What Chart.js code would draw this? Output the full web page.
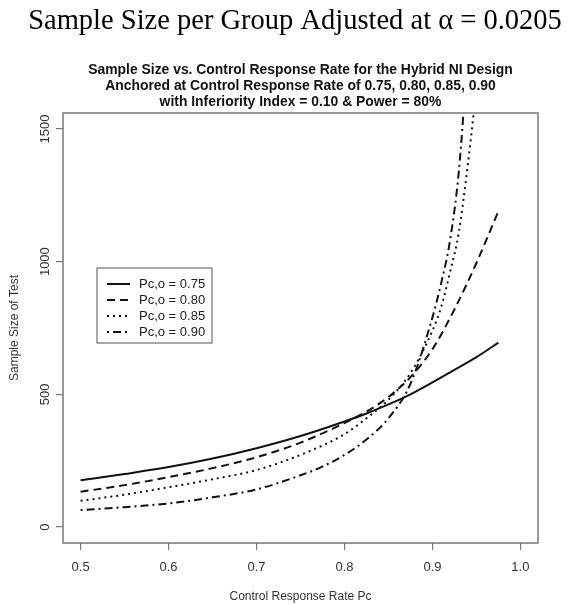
<!DOCTYPE html>
<html>
<head>
<meta charset="utf-8">
<script src="https://cdn.jsdelivr.net/npm/chart.js@4.4.0/dist/chart.umd.min.js"></script>
<style>
  html, body { margin: 0; padding: 0; background: #fff; }
  #wrap { width: 576px; height: 605px; }
</style>
</head>
<body>
<div id="wrap"><canvas id="chart" width="576" height="605"></canvas></div>
<script>
const xTicks = [0.5, 0.6, 0.7, 0.8, 0.9, 1.0];
const yTicks = [0, 500, 1000, 1500];
const seriesNames = ['Pc,o = 0.75', 'Pc,o = 0.80', 'Pc,o = 0.85', 'Pc,o = 0.90'];

// control response rate (x) and sample size (y)
const rate075 = [0.5, 0.55, 0.6, 0.65, 0.7, 0.75, 0.8, 0.825, 0.85, 0.875, 0.9, 0.925, 0.95, 0.975];
const size075 = [176, 200, 226, 258, 297, 343, 398, 428, 462, 500, 545, 592, 640, 695];

const rate080 = [0.5, 0.55, 0.6, 0.65, 0.7, 0.75, 0.8, 0.825, 0.85, 0.875, 0.9, 0.925, 0.95, 0.975];
const size080 = [133, 158, 188, 222, 263, 318, 392, 435, 490, 565, 670, 820, 995, 1190];

const rate085 = [0.5, 0.55, 0.6, 0.65, 0.7, 0.75, 0.8, 0.825, 0.85, 0.875, 0.9, 0.91, 0.92, 0.93, 0.94, 0.95];
const size085 = [99, 122, 150, 180, 215, 272, 350, 410, 480, 580, 740, 830, 960, 1110, 1360, 1650];

const rate090 = [0.5, 0.55, 0.6, 0.65, 0.7, 0.75, 0.775, 0.8, 0.825, 0.85, 0.875, 0.9, 0.91, 0.92, 0.93, 0.94];
const size090 = [64, 75, 89, 112, 142, 195, 228, 272, 330, 410, 540, 790, 920, 1080, 1340, 1780];

const dashes = [[], [8, 5], [2, 4], [2, 4, 8, 4]];

function pts(xs, ys) {
  return xs.map((v, i) => ({ x: v, y: ys[i] }));
}

const allRates = [rate075, rate080, rate085, rate090];
const allSizes = [size075, size080, size085, size090];

const datasets = seriesNames.map((name, i) => ({
  label: name,
  data: pts(allRates[i], allSizes[i]),
  borderColor: '#111',
  borderWidth: 2,
  borderDash: dashes[i],
  pointRadius: 0,
  tension: 0.4,
  cubicInterpolationMode: 'monotone',
  fill: false
}));

const font = '"Liberation Sans", Arial, sans-serif';

const decor = {
  id: 'decor',
  afterDraw(chart) {
    const { ctx, chartArea: a, scales: { y } } = chart;
    ctx.save();

    // plot box
    ctx.strokeStyle = '#777';
    ctx.lineWidth = 1.5;
    ctx.setLineDash([]);
    ctx.strokeRect(a.left, a.top, a.right - a.left, a.bottom - a.top);

    // main title
    ctx.fillStyle = '#000';
    ctx.textAlign = 'center';
    ctx.textBaseline = 'middle';
    ctx.font = '28.5px "Liberation Serif", "Times New Roman", serif';
    ctx.fillText('Sample Size per Group Adjusted at \u03b1 = 0.0205', 295, 22);

    // chart title
    ctx.fillStyle = '#111';
    ctx.font = 'bold 13.9px ' + font;
    const mid = (a.left + a.right) / 2;
    ctx.fillText('Sample Size vs. Control Response Rate for the Hybrid NI Design', mid, 70);
    ctx.fillText('Anchored at Control Response Rate of 0.75, 0.80, 0.85, 0.90', mid, 86);
    ctx.fillText('with Inferiority Index = 0.10 & Power = 80%', mid, 102);

    // y tick labels (rotated like R)
    ctx.fillStyle = '#333';
    ctx.font = '13px ' + font;
    yTicks.forEach(v => {
      ctx.save();
      ctx.translate(45, y.getPixelForValue(v));
      ctx.rotate(-Math.PI / 2);
      ctx.fillText(String(v), 0, 0);
      ctx.restore();
    });

    // axis titles
    ctx.font = '12px ' + font;
    ctx.save();
    ctx.translate(15, (a.top + a.bottom) / 2);
    ctx.rotate(-Math.PI / 2);
    ctx.fillText('Sample Size of Test', 0, 0);
    ctx.restore();
    ctx.fillText('Control Response Rate Pc', mid, 597);

    // legend
    const lx = 97, ly = 268, lw = 115, lh = 75;
    ctx.fillStyle = '#fff';
    ctx.fillRect(lx, ly, lw, lh);
    ctx.strokeStyle = '#555';
    ctx.lineWidth = 1;
    ctx.strokeRect(lx, ly, lw, lh);
    ctx.textAlign = 'left';
    ctx.font = '13px ' + font;
    chart.data.datasets.forEach((ds, i) => {
      const yy = ly + 16 + i * 16;
      ctx.strokeStyle = ds.borderColor;
      ctx.lineWidth = ds.borderWidth;
      ctx.setLineDash(ds.borderDash);
      ctx.beginPath();
      ctx.moveTo(lx + 10, yy);
      ctx.lineTo(lx + 33, yy);
      ctx.stroke();
      ctx.setLineDash([]);
      ctx.fillStyle = '#222';
      ctx.fillText(ds.label, lx + 42, yy);
    });

    ctx.restore();
  }
};

new Chart(document.getElementById('chart').getContext('2d'), {
  type: 'line',
  data: { datasets: datasets },
  options: {
    responsive: false,
    animation: false,
    devicePixelRatio: 1,
    layout: { padding: { top: 113, right: 38, bottom: 0, left: 0 } },
    plugins: {
      legend: { display: false },
      tooltip: { enabled: false }
    },
    scales: {
      x: {
        type: 'linear',
        min: 0.48,
        max: 1.02,
        afterBuildTicks: s => { s.ticks = xTicks.map(v => ({ value: v })); },
        afterFit: s => { s.height = 62; },
        border: { display: false },
        grid: { drawOnChartArea: false, drawTicks: true, tickLength: 7, color: '#777', lineWidth: 1.2 },
        ticks: {
          color: '#333',
          font: { size: 13, family: font },
          padding: 10,
          maxRotation: 0,
          callback: v => Number(v).toFixed(1)
        }
      },
      y: {
        type: 'linear',
        min: -60,
        max: 1560,
        afterBuildTicks: s => { s.ticks = yTicks.map(v => ({ value: v })); },
        afterFit: s => { s.width = 63; },
        border: { display: false },
        grid: { drawOnChartArea: false, drawTicks: true, tickLength: 7, color: '#777', lineWidth: 1.2 },
        ticks: { color: 'rgba(0,0,0,0)' }
      }
    }
  },
  plugins: [decor]
});
</script>
</body>
</html>
